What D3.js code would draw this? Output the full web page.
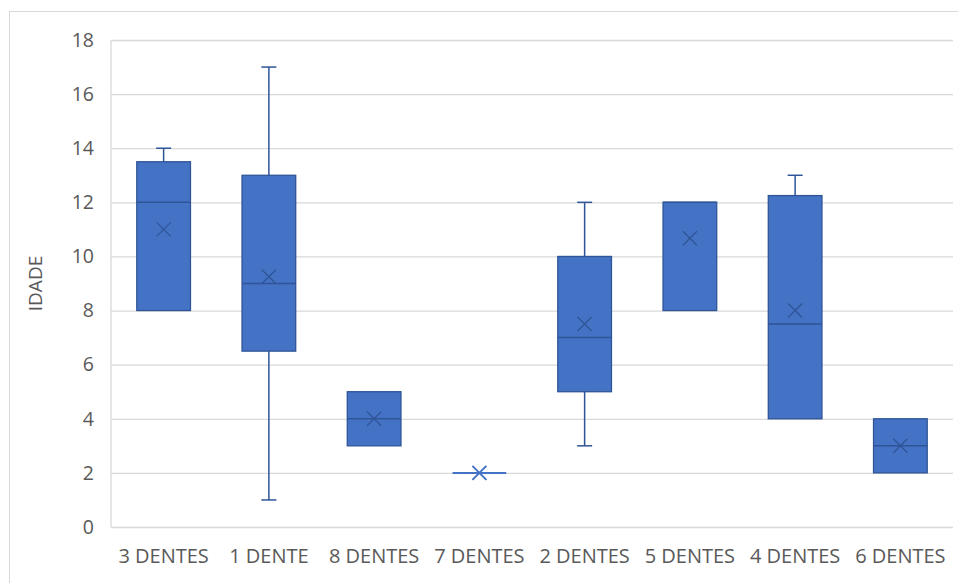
<!DOCTYPE html>
<html>
<head>
<meta charset="utf-8">
<script src="https://cdn.jsdelivr.net/npm/d3@7"></script>
<style>
  html, body { margin: 0; padding: 0; background: #fff; }
  svg { display: block; }
</style>
</head>
<body>
<svg id="chart" width="958" height="583"></svg>
<script>
// Age distribution (IDADE) by number of teeth
const categories = ["3 DENTES", "1 DENTE", "8 DENTES", "7 DENTES", "2 DENTES", "5 DENTES", "4 DENTES", "6 DENTES"];
const minValues    = [8,  1,   3, 2, 3,   8,     4,    2];
const q1Values     = [8,  6.5, 3, 2, 5,   8,     4,    2];
const medianValues = [12, 9,   4, 2, 7,   12,    7.5,  3];
const q3Values     = [13.5, 13, 5, 2, 10, 12,    12.25, 4];
const maxValues    = [14, 17,  5, 2, 12,  12,    13,   4];
const meanValues   = [11, 9.25, 4, 2, 7.5, 10.67, 8,   3];
const yTicks = [0, 2, 4, 6, 8, 10, 12, 14, 16, 18];

const fill = "#4472C4", edge = "#2F5597", textColor = "#595959", gridColor = "#d9d9d9";
const font = "'Open Sans', 'Noto Sans', sans-serif";

const svg = d3.select("#chart");
const margin = { left: 111, right: 5, top: 40, bottom: 56 };
const W = 958, H = 583;

// outer chart frame
svg.append("rect").attr("x", 9.5).attr("y", 11.5).attr("width", 1000).attr("height", 1000)
  .attr("fill", "none").attr("stroke", "#d9d9d9");

const x = d3.scaleBand().domain(categories).range([margin.left, W - margin.right]).paddingInner(0).paddingOuter(0);
const y = d3.scaleLinear().domain([0, 18]).range([H - margin.bottom, margin.top]);

// gridlines + y tick labels
const yAxis = d3.axisLeft(y).tickValues(yTicks).tickSize(-(W - margin.right - margin.left)).tickPadding(17);
const gy = svg.append("g").attr("transform", `translate(${margin.left},0)`).call(yAxis);
gy.select(".domain").remove();
gy.selectAll(".tick line").attr("stroke", gridColor).attr("stroke-width", 1.3);
gy.selectAll(".tick text").attr("fill", textColor).attr("font-family", font).attr("font-size", 19.5);

// left axis line
svg.append("line").attr("x1", margin.left).attr("x2", margin.left)
  .attr("y1", y(18)).attr("y2", y(0)).attr("stroke", gridColor).attr("stroke-width", 1.3);

// category labels
const xAxis = d3.axisBottom(x).tickSize(0).tickPadding(22);
const gx = svg.append("g").attr("transform", `translate(0,${y(0)})`).call(xAxis);
gx.select(".domain").remove();
gx.selectAll(".tick text").attr("fill", textColor).attr("font-family", font).attr("font-size", 20);

// y axis title
svg.append("text").attr("transform", `translate(42,${(y(0) + y(18)) / 2 + 0}) rotate(-90)`)
  .attr("text-anchor", "middle").attr("fill", textColor).attr("font-family", font).attr("font-size", 19)
  .text("IDADE");

// box plots
const data = categories.map((c, i) => ({
  c, min: minValues[i], q1: q1Values[i], med: medianValues[i], q3: q3Values[i], max: maxValues[i], mean: meanValues[i]
}));
const boxW = x.bandwidth() * 0.51;
const capW = 15;
const g = svg.append("g");
data.forEach(d => {
  const cx = x(d.c) + x.bandwidth() / 2;
  // whiskers
  if (d.max > d.q3) {
    g.append("line").attr("x1", cx).attr("x2", cx).attr("y1", y(d.max)).attr("y2", y(d.q3)).attr("stroke", edge).attr("stroke-width", 1.5);
    g.append("line").attr("x1", cx - capW / 2).attr("x2", cx + capW / 2).attr("y1", y(d.max)).attr("y2", y(d.max)).attr("stroke", edge).attr("stroke-width", 1.5);
  }
  if (d.min < d.q1) {
    g.append("line").attr("x1", cx).attr("x2", cx).attr("y1", y(d.q1)).attr("y2", y(d.min)).attr("stroke", edge).attr("stroke-width", 1.5);
    g.append("line").attr("x1", cx - capW / 2).attr("x2", cx + capW / 2).attr("y1", y(d.min)).attr("y2", y(d.min)).attr("stroke", edge).attr("stroke-width", 1.5);
  }
  // box
  if (d.q3 > d.q1) {
    g.append("rect").attr("x", cx - boxW / 2).attr("width", boxW)
      .attr("y", y(d.q3)).attr("height", y(d.q1) - y(d.q3))
      .attr("fill", fill).attr("stroke", edge).attr("stroke-width", 1.3);
  }
  // median
  g.append("line").attr("x1", cx - boxW / 2).attr("x2", cx + boxW / 2)
    .attr("y1", y(d.med)).attr("y2", y(d.med))
    .attr("stroke", d.q3 > d.q1 ? edge : fill).attr("stroke-width", d.q3 > d.q1 ? 1.5 : 2);
  // mean marker
  const s = 7, my = y(d.mean);
  const mColor = d.q3 > d.q1 ? "#2F5597" : fill;
  g.append("path").attr("d", `M${cx - s},${my - s}L${cx + s},${my + s}M${cx - s},${my + s}L${cx + s},${my - s}`)
    .attr("stroke", mColor).attr("stroke-width", d.q3 > d.q1 ? 1.3 : 2).attr("fill", "none");
});
</script>
</body>
</html>
